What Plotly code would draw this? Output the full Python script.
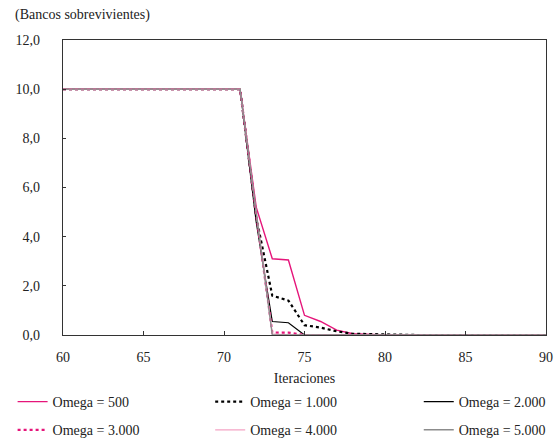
import plotly.graph_objects as go

iteraciones = [60, 61, 62, 63, 64, 65, 66, 67, 68, 69, 70, 71, 72, 73, 74, 75,
               76, 77, 78, 79, 80, 81, 82, 83, 84, 85, 86, 87, 88, 89, 90]

omega_500 = [10, 10, 10, 10, 10, 10, 10, 10, 10, 10, 10, 10, 5.2, 3.1, 3.05, 0.8,
             0.55, 0.2, 0.05, 0.02, 0, 0, 0, 0, 0, 0, 0, 0, 0, 0, 0]
omega_1000 = [10, 10, 10, 10, 10, 10, 10, 10, 10, 10, 10, 10, 4.8, 1.6, 1.4, 0.4,
              0.3, 0.15, 0.05, 0.03, 0.02, 0, 0, 0, 0, 0, 0, 0, 0, 0, 0]
omega_2000 = [10, 10, 10, 10, 10, 10, 10, 10, 10, 10, 10, 10, 4.6, 0.55, 0.5, 0,
              0, 0, 0, 0, 0, 0, 0, 0, 0, 0, 0, 0, 0, 0, 0]
omega_3000 = [10, 10, 10, 10, 10, 10, 10, 10, 10, 10, 10, 10, 4.9, 0.1, 0.1, 0,
              0, 0, 0, 0, 0, 0, 0, 0, 0, 0, 0, 0, 0, 0, 0]
omega_4000 = [10, 10, 10, 10, 10, 10, 10, 10, 10, 10, 10, 10, 5.0, 0.05, 0, 0,
              0, 0, 0, 0, 0, 0, 0, 0, 0, 0, 0, 0, 0, 0, 0]
omega_5000 = [10, 10, 10, 10, 10, 10, 10, 10, 10, 10, 10, 10, 5.0, 0, 0, 0,
              0, 0, 0, 0, 0, 0, 0, 0, 0, 0, 0, 0, 0, 0, 0]

series = [
    ("Omega = 500", omega_500, "#E5157A", "solid", 1.4, "legend"),
    ("Omega = 1.000", omega_1000, "#000000", "dot", 2.2, "legend2"),
    ("Omega = 2.000", omega_2000, "#000000", "solid", 1.2, "legend3"),
    ("Omega = 3.000", omega_3000, "#E5157A", "dot", 2.2, "legend"),
    ("Omega = 4.000", omega_4000, "#F4A3C4", "solid", 1.2, "legend2"),
    ("Omega = 5.000", omega_5000, "#8C8C8C", "solid", 1.4, "legend3"),
]

FONT = "Liberation Serif, Times New Roman, serif"
FS = 14
fig = go.Figure()
for i, (name, vals, color, dash, width, leg) in enumerate(series):
    fig.add_trace(go.Scatter(
        x=iteraciones, y=vals, mode="lines", name=name,
        line=dict(color=color, dash=dash, width=width),
        legend=leg, legendgroup="g%d" % i,
    ))

L, R, T, B = 62.5, 9.5, 40, 104
W, H = 556, 439
pw = W - L - R

def px_x(p):
    return (p - L) / pw

legend_common = dict(orientation="v", xanchor="left", yanchor="top",
                     yref="container", y=1 - 386 / H, tracegroupgap=7,
                     font=dict(family=FONT, size=FS, color="#222"),
                     bgcolor="rgba(0,0,0,0)", borderwidth=0)

fig.update_layout(
    width=W, height=H,
    margin=dict(l=L, r=R, t=T, b=B, autoexpand=False),
    plot_bgcolor="white", paper_bgcolor="white",
    separators=",.",
    font=dict(family=FONT, size=FS, color="#222"),
    title=dict(text="(Bancos sobrevivientes)", x=15 / W, xanchor="left",
               y=1 - 14 / H, yanchor="middle", xref="container", yref="container",
               font=dict(family=FONT, size=FS, color="#222")),
    legend=dict(x=px_x(12), **legend_common),
    legend2=dict(x=px_x(210), **legend_common),
    legend3=dict(x=px_x(419), **legend_common),
    xaxis=dict(range=[60, 90], tickvals=[60, 65, 70, 75, 80, 85, 90],
               ticks="inside", ticklen=4, tickcolor="#333", tickwidth=1,
               showline=True, linecolor="#333", linewidth=1.2, mirror=True,
               showgrid=False, zeroline=False,
               tickfont=dict(family=FONT, size=FS, color="#222"),
               ticklabelstandoff=9,
               title=dict(text="Iteraciones", standoff=16,
                          font=dict(family=FONT, size=FS, color="#222"))),
    yaxis=dict(range=[0, 12], dtick=2, tickformat=".1f",
               ticks="inside", ticklen=3, tickcolor="#333", tickwidth=1,
               showline=True, linecolor="#333", linewidth=1.2, mirror=True,
               showgrid=False, zeroline=False, ticklabelstandoff=19,
               tickfont=dict(family=FONT, size=FS, color="#222")),
)

fig.write_html("out.html", config={"displayModeBar": False},
               post_script="document.body.style.margin='0';")
